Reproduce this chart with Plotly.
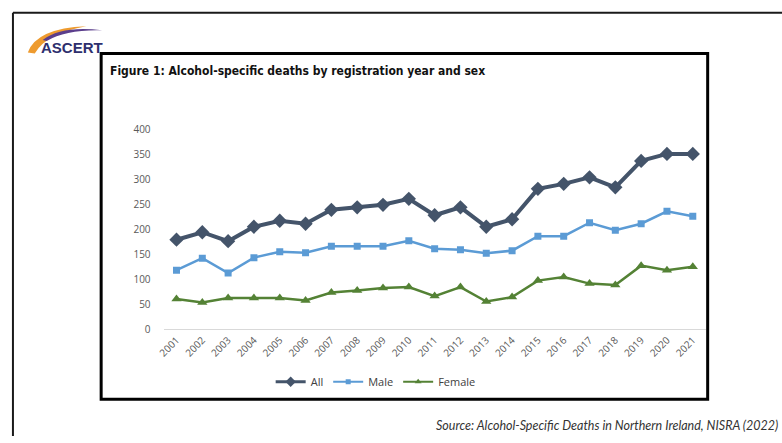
import plotly.graph_objects as go

years = [str(y) for y in range(2001, 2022)]
all_deaths = [180, 195, 177, 206, 218, 212, 240, 245, 250, 262, 229, 245, 206, 221, 282, 292, 305, 285, 338, 352, 352]
male_deaths = [119, 143, 113, 144, 156, 154, 167, 167, 167, 178, 162, 160, 153, 158, 187, 187, 214, 199, 212, 237, 227]
female_deaths = [61, 54, 63, 63, 63, 58, 74, 78, 83, 85, 67, 85, 56, 65, 98, 105, 92, 89, 128, 119, 126]

W, H = 782, 443
def px(x):
    return x / W
def py(y):
    return 1 - y / H

series = [
    ("All", all_deaths, "#44546A", 4, "diamond", 11, 3, 8),
    ("Male", male_deaths, "#5B9BD5", 2.5, "square", 7, 2, 5),
    ("Female", female_deaths, "#548235", 2.5, "triangle-up", 9, 2, 6),
]

fig = go.Figure()
for name, vals, col, lw, sym, ms, lw_leg, ms_leg in series:
    fig.add_trace(go.Scatter(x=years, y=vals, name=name, mode="lines+markers",
                             line=dict(color=col, width=lw),
                             marker=dict(symbol=sym, size=ms, color=col),
                             showlegend=False))
for name, vals, col, lw, sym, ms, lw_leg, ms_leg in series:
    # legend-only entries with smaller symbols (as in the reference legend)
    fig.add_trace(go.Scatter(x=[None], y=[None], name=name, mode="lines+markers",
                             line=dict(color=col, width=lw_leg),
                             marker=dict(symbol=sym, size=ms_leg, color=col),
                             showlegend=True))

font_lbl = dict(family="Open Sans, Lato, sans-serif", size=10, color="#595959")

fig.update_layout(
    width=W, height=H,
    margin=dict(l=0, r=0, t=0, b=0),
    paper_bgcolor="white", plot_bgcolor="white",
    showlegend=True,
    legend=dict(orientation="h", x=px(372), y=py(387), xanchor="center", yanchor="middle",
                font=dict(family="Open Sans, Lato, sans-serif", size=11, color="#404040"),
                itemwidth=30, tracegroupgap=0, bgcolor="rgba(0,0,0,0)",
                itemsizing="trace"),
    xaxis=dict(domain=[px(158), px(705)], range=[-0.5, 20.5], type="category",
               showgrid=False, showline=True, linecolor="#D9D9D9", linewidth=1,
               ticks="", tickangle=-45, tickfont=font_lbl, fixedrange=True),
    yaxis=dict(domain=[py(333), py(127)], range=[0, 400], dtick=50,
               showgrid=False, zeroline=False, showline=False, ticks="",
               tickfont=font_lbl, ticklabelstandoff=12, fixedrange=True),
    font=dict(family="Open Sans, sans-serif"),
)

shapes = [
    # outer frame
    dict(type="line", xref="paper", yref="paper", x0=px(6), x1=px(782), y0=py(6), y1=py(6),
         line=dict(color="#1a1a1a", width=2)),
    dict(type="line", xref="paper", yref="paper", x0=px(6), x1=px(6), y0=py(6), y1=py(443),
         line=dict(color="#1a1a1a", width=2)),
    # inner box
    dict(type="rect", xref="paper", yref="paper", x0=px(95), x1=px(707), y0=py(48), y1=py(405),
         line=dict(color="black", width=3)),
    # logo swoosh (orange part)
    dict(type="path", xref="paper", yref="paper",
         path=f"M {px(21)},{py(47)} Q {px(30)},{py(22)} {px(80)},{py(20)} Q {px(40)},{py(27)} {px(28)},{py(48)} Z",
         fillcolor="#EE9B2F", line=dict(width=0)),
    # logo swoosh (purple part)
    dict(type="path", xref="paper", yref="paper",
         path=f"M {px(36)},{py(34)} Q {px(55)},{py(19)} {px(96)},{py(24)} Q {px(60)},{py(23)} {px(40)},{py(35)} Z",
         fillcolor="#5B3E8C", line=dict(width=0)),
]
fig.update_layout(shapes=shapes)

fig.add_annotation(x=px(32), y=py(42), xref="paper", yref="paper", xanchor="left", yanchor="middle",
                   text="<b>ASCERT</b>", showarrow=False,
                   font=dict(family="Liberation Sans, Arial, sans-serif", size=15, color="#2E2F6E"))
fig.add_annotation(x=px(102), y=py(66), xref="paper", yref="paper", xanchor="left", yanchor="middle",
                   text="<b>Figure 1: Alcohol-specific deaths by registration year and sex</b>", showarrow=False,
                   font=dict(family="DejaVu Sans Condensed, Liberation Sans Narrow, sans-serif", size=12, color="#111111"))
fig.add_annotation(x=px(780), y=py(432), xref="paper", yref="paper", xanchor="right", yanchor="middle",
                   text="<i>Source: Alcohol-Specific Deaths in Northern Ireland, NISRA (2022)</i>", showarrow=False,
                   font=dict(family="Lato, Open Sans, sans-serif", size=12.5, color="#333333"))

fig.write_html("out.html")
